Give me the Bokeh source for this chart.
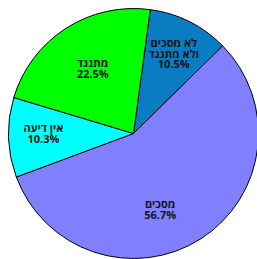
import math
from bokeh.plotting import figure
from bokeh.models import Range1d, ColumnDataSource
from bokeh.core.properties import value
from bokeh.embed import file_html
from bokeh.resources import INLINE

categories = ["לא מסכים\nולא מתנגד", "מסכים", "אין דיעה", "מתנגד"]
percents = [10.5, 56.7, 10.3, 22.5]
colors = ["#0a7cc2", "#8080ff", "#00ffff", "#00ff00"]

# layout
start_deg = 7.7          # clockwise from north
label_r = [0.72, 0.64, 0.72, 0.62]
label_nudge = [0.0, 13.0, 2.0, 1.0]

total = sum(percents)
starts, ends, lx, ly, texts = [], [], [], [], []
acc = start_deg
for i, v in enumerate(percents):
    a0 = acc
    a1 = acc + v / total * 360.0
    acc = a1
    starts.append(math.radians(90 - a0))
    ends.append(math.radians(90 - a1))
    mid = (a0 + a1) / 2 + label_nudge[i]
    lx.append(label_r[i] * math.sin(math.radians(mid)))
    ly.append(label_r[i] * math.cos(math.radians(mid)))
    texts.append(f"{categories[i]}\n{v:.1f}%")

src = ColumnDataSource(dict(start=starts, end=ends, color=colors, x=lx, y=ly, text=texts))

W, H = 257, 259
R = 125.0
CX, CY = 133.0, 133.0
p = figure(width=W, height=H, output_backend="svg", toolbar_location=None,
           x_range=Range1d(-CX / R, (W - CX) / R), y_range=Range1d(-(H - CY) / R, CY / R),
           min_border=0, outline_line_color=None)
p.axis.visible = False
p.grid.visible = False
p.background_fill_color = "white"
p.border_fill_color = "white"

p.wedge(x=0, y=0, radius=1.0, start_angle="start", end_angle="end", direction="clock",
        fill_color="color", line_color="black", line_width=1, source=src)

p.text(x="x", y="y", text="text", source=src, text_align="center", text_baseline="middle",
       text_font=value("Open Sans"), text_font_style="bold", text_font_size="11px",
       text_color="#151515", text_line_height=0.72)

open("out.html", "w").write(file_html(p, INLINE))
